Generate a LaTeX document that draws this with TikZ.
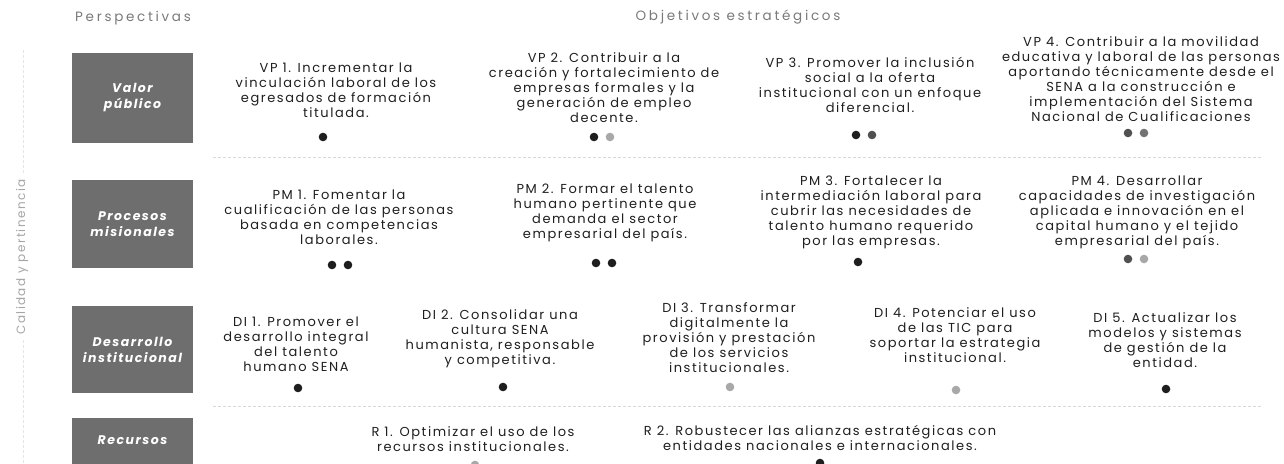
\documentclass[tikz,border=0pt]{standalone}
\usepackage{fontspec}
\setmainfont{Poppins}[LetterSpace=12]
\newfontfamily\cabecera{Poppins}[LetterSpace=20]
\definecolor{cajagris}{HTML}{6E6E6E}
\definecolor{titulogris}{HTML}{7A7A7A}
\definecolor{negro}{HTML}{1E1E1E}
\definecolor{oscuro}{HTML}{505050}
\definecolor{claro}{HTML}{A8A8A8}
\begin{document}
\begin{tikzpicture}[x=1pt,y=-1pt,
                        obj/.style={font=\fontsize{13}{15}\selectfont, align=center, text=black!88, inner sep=0pt},
                        persp/.style={fill=cajagris, text=white, font=\fontsize{12.5}{16}\selectfont\bfseries\itshape,
                                      align=center, minimum width=121pt, minimum height=90pt, inner sep=0pt},
                        titulo/.style={font=\cabecera\fontsize{13.5}{15}\selectfont, text=titulogris},
                        sep/.style={draw=black!15, line width=0.6pt, dash pattern=on 3pt off 2pt},
                        ]
                        \clip (0,0) rectangle (1284,463);
                        \fill[white] (0,0) rectangle (1284,463);
                        %Titulos
                        \node[titulo] (tpersp) at (133,18) {Perspectivas};
                        \node[titulo] (tobj) at (738,17) {Objetivos estratégicos};
                        \node[titulo, font=\fontsize{12}{14}\selectfont, text=black!35, rotate=90] (tcal) at (22,257) {Calidad y pertinencia};
                        \draw[sep, draw=black!10] (23,50) -- (23,175);
                        \draw[sep, draw=black!10] (23,340) -- (23,463);
                        %Perspectivas
                        \node[persp] (vp) at (132.5,98) {Valor\\público};
                        \node[persp, minimum height=88pt] (pm) at (132.5,224) {Procesos\\misionales};
                        \node[persp, minimum height=87pt] (di) at (132.5,349.5) {Desarrollo\\institucional};
                        \node[persp, minimum height=54pt] (re) at (132.5,445) {};
                        \node[text=white, font=\fontsize{12.5}{16}\selectfont\bfseries\itshape] (retxt) at (132.5,440) {Recursos};
                        %Lineas
                        \draw[sep] (213,157) -- (1262,157);
                        \draw[sep] (213,406) -- (1262,406);
                        %Valor publico
                        \node[obj] (vp1) at (336,90) {VP 1. Incrementar la\\vinculación laboral de los\\egresados de formación\\titulada.};
                        \node[obj] (vp2) at (604,88) {VP 2. Contribuir a la\\creación y fortalecimiento de\\empresas formales y la\\generación de empleo\\decente.};
                        \node[obj] (vp3) at (870,85) {VP 3. Promover la inclusión\\social a la oferta\\institucional con un enfoque\\diferencial.};
                        \node[obj] (vp4) at (1141,79) {VP 4. Contribuir a la movilidad\\educativa y laboral de las personas\\aportando técnicamente desde el\\SENA a la construcción e\\implementación del Sistema\\Nacional de Cualificaciones};
                        \fill[negro] (323,137) circle (4.3);
                        \fill[negro] (594,137) circle (4.3);
                        \fill[claro] (610,137) circle (4.3);
                        \fill[negro] (856,135) circle (4.3);
                        \fill[oscuro] (872,135) circle (4.3);
                        \fill[oscuro] (1128,133) circle (4.3);
                        \fill[oscuro!80] (1144,133) circle (4.3);
                        %Procesos misionales
                        \node[obj] (pm1) at (339,217) {PM 1. Fomentar la\\cualificación de las personas\\basada en competencias\\laborales.};
                        \node[obj] (pm2) at (605,213) {PM 2. Formar el talento\\humano pertinente que\\demanda el sector\\empresarial del país.};
                        \node[obj] (pm3) at (871,212.5) {PM 3. Fortalecer la\\intermediación laboral para\\cubrir las necesidades de\\talento humano requerido\\por las empresas.};
                        \node[obj] (pm4) at (1137,212) {PM 4. Desarrollar\\capacidades de investigación\\aplicada e innovación en el\\capital humano y el tejido\\empresarial del país.};
                        \fill[negro] (332,265) circle (4.3);
                        \fill[negro] (348,265) circle (4.3);
                        \fill[negro] (596,263) circle (4.3);
                        \fill[negro] (612,263) circle (4.3);
                        \fill[negro] (858,262) circle (4.3);
                        \fill[oscuro] (1128,259) circle (4.3);
                        \fill[claro] (1144,259) circle (4.3);
                        %Desarrollo institucional
                        \node[obj] (di1) at (296,344.5) {DI 1. Promover el\\desarrollo integral\\del talento\\humano SENA};
                        \node[obj] (di2) at (500,339) {DI 2. Consolidar una\\cultura SENA\\humanista, responsable\\y competitiva.};
                        \node[obj] (di3) at (729,338) {DI 3. Transformar\\digitalmente la\\provisión y prestación\\de los servicios\\institucionales.};
                        \node[obj] (di4) at (955,335.5) {DI 4. Potenciar el uso\\de las TIC para\\soportar la estrategia\\institucional.};
                        \node[obj] (di5) at (1165,340.5) {DI 5. Actualizar los\\modelos y sistemas\\de gestión de la\\entidad.};
                        \fill[negro] (298,388) circle (4.3);
                        \fill[negro] (503,387) circle (4.3);
                        \fill[claro] (730,387) circle (4.3);
                        \fill[claro] (956,390) circle (4.3);
                        \fill[negro] (1166,389) circle (4.3);
                        %Recursos
                        \node[obj] (r1) at (473,439.5) {R 1. Optimizar el uso de los\\recursos institucionales.};
                        \node[obj] (r2) at (820,437.5) {R 2. Robustecer las alianzas estratégicas con\\entidades nacionales e internacionales.};
                        \fill[claro] (475,465) circle (4.3);
                        \fill[negro] (820,463) circle (4.3);
\end{tikzpicture}
\end{document}
